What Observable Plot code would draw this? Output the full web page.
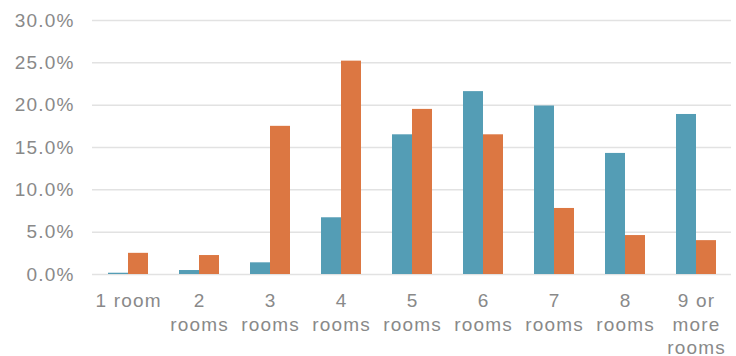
<!DOCTYPE html>
<html>
<head>
<meta charset="utf-8">
<script src="https://cdn.jsdelivr.net/npm/d3@7"></script>
<script src="https://cdn.jsdelivr.net/npm/@observablehq/plot@0.6"></script>
<style>
  html, body { margin: 0; padding: 0; background: #fff; }
  #chart svg { display: block; }
</style>
</head>
<body>
<div id="chart"></div>
<script>
// Rooms per dwelling, share of dwellings in two series
const categories = ["1", "2", "3", "4", "5", "6", "7", "8", "9+"];
const categoryLabels = ["1 room", "2\nrooms", "3\nrooms", "4\nrooms", "5\nrooms", "6\nrooms", "7\nrooms", "8\nrooms", "9 or\nmore\nrooms"];
const seriesNames = ["series1", "series2"];
const series1 = [0.0015, 0.0047, 0.0138, 0.067, 0.165, 0.216, 0.199, 0.143, 0.189];
const series2 = [0.025, 0.0224, 0.175, 0.252, 0.195, 0.165, 0.078, 0.046, 0.040];
const yTicks = [0, 0.05, 0.10, 0.15, 0.20, 0.25, 0.30];
const colors = ["#549db5", "#dc7742"];

const rows = categories.flatMap((c, i) => [
  {category: c, series: seriesNames[0], value: series1[i]},
  {category: c, series: seriesNames[1], value: series2[i]}
]);
const labelOf = new Map(categories.map((c, i) => [c, categoryLabels[i]]));

const textColor = "#898989";

const chart = Plot.plot({
  width: 736,
  height: 356,
  marginLeft: 90,
  marginRight: 3,
  marginTop: 20,
  marginBottom: 82,
  style: {fontFamily: "'Liberation Sans', Arial, sans-serif", color: textColor, background: "#fff", letterSpacing: "1.2px"},
  fx: {domain: categories, padding: 0, label: null},
  x: {domain: seriesNames, paddingInner: 0, paddingOuter: 0.73, axis: null},
  y: {domain: [0, 0.30], label: null},
  color: {domain: seriesNames, range: colors},
  marks: [
    Plot.gridY(yTicks, {stroke: "#e2e2e2", strokeOpacity: 1, strokeWidth: 1.5}),
    Plot.barY(rows, {fx: "category", x: "series", y: "value", fill: "series"}),
    Plot.axisY(yTicks, {
      tickFormat: d3.format(".1%"), tickSize: 0, tickPadding: 18,
      fontSize: 19, fill: textColor, label: null
    }),
    Plot.axisFx({
      anchor: "bottom",
      tickFormat: d => labelOf.get(d), tickSize: 0, tickPadding: 16,
      fontSize: 19, lineHeight: 1.24, fill: textColor, label: null, dx: 0.6
    })
  ]
});

document.getElementById("chart").appendChild(chart);
</script>
</body>
</html>
